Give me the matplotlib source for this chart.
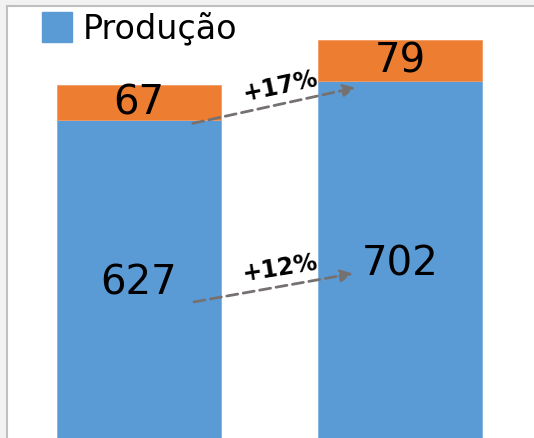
import matplotlib.pyplot as plt
from matplotlib.patches import Rectangle

# dados
categorias = ['A', 'B']
producao = [627, 702]
extra = [67, 79]
variacao = ['+12%', '+17%']

azul = '#5B9BD5'
laranja = '#ED7D31'
cinza = '#767171'

fig = plt.figure(figsize=(5.34, 4.39), dpi=100)
fig.patch.set_facecolor('#f2f2f2')

W, H = 534, 439
ax = fig.add_axes([8 / W, 0, 1 - 8 / W, 1 - 8 / H])
ax.set_facecolor('white')

x = range(len(categorias))
ax.bar(x, producao, width=0.628, color=azul, edgecolor='#7fb1e0', linewidth=0.6)
ax.bar(x, extra, bottom=producao, width=0.628, color=laranja, edgecolor='#f29a62', linewidth=0.6)

for i in x:
    ax.text(i, producao[i] / 2, str(producao[i]), ha='center', va='center',
            fontsize=29, color='black')
    ax.text(i, producao[i] + extra[i] / 2, str(extra[i]), ha='center', va='center',
            fontsize=29, color='black')

# setas de variação
total = [p + e for p, e in zip(producao, extra)]
seta = dict(arrowstyle='-|>', color=cinza, lw=2, linestyle=(0, (4, 2)), mutation_scale=18)
ax.annotate('', xy=(0.84, total[0] - 4), xytext=(0.195, producao[0] - 8), arrowprops=seta)
ax.annotate('', xy=(0.83, producao[0] * 0.53), xytext=(0.2, producao[0] * 0.44), arrowprops=seta)
ax.text(0.54, 693, variacao[1], ha='center', va='center', fontsize=17,
        fontweight='bold', rotation=12)
ax.text(0.54, 343, variacao[0], ha='center', va='center', fontsize=17,
        fontweight='bold', rotation=9)

ax.set_xlim(-0.502, 1.513)
ax.set_ylim(15, 844)
ax.set_xticks([])
ax.set_yticks([])
for s in ax.spines.values():
    s.set_visible(False)

# legenda
fig.patches.append(Rectangle((42 / W, 1 - 43 / H), 30 / W, 30 / H,
                             transform=fig.transFigure, color=azul))
fig.text(83 / W, 1 - 29 / H, 'Produção', fontsize=24, va='center', ha='left')

# borda
fig.add_artist(plt.Line2D([7 / W, 7 / W], [0, 1 - 7 / H], color='#bfbfbf', lw=1.5))
fig.add_artist(plt.Line2D([7 / W, 1], [1 - 7 / H, 1 - 7 / H], color='#bfbfbf', lw=1.5))

fig.savefig('out.png', dpi=100, facecolor=fig.get_facecolor())
